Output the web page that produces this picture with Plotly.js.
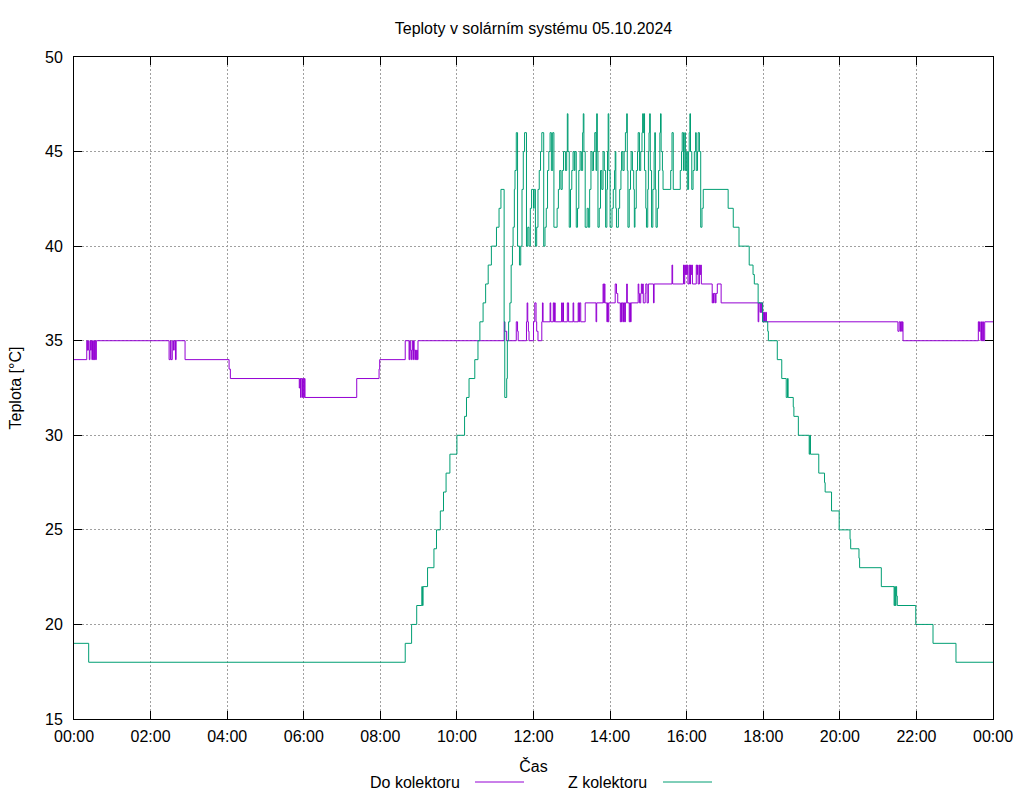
<!DOCTYPE html>
<html>
<head>
<meta charset="utf-8">
<script src="https://cdn.plot.ly/plotly-3.0.1.min.js"></script>
<style>html,body{margin:0;padding:0;background:#fff;}#chart{width:1024px;height:800px;}</style>
</head>
<body>
<div id="chart"></div>
<script>
const chartTitle = "Teploty v solárním systému 05.10.2024";
const xTitle = "Čas";
const yTitle = "Teplota [°C]";
const seriesNames = ["Do kolektoru", "Z kolektoru"];
const day = "2024-10-05";
const nextDay = "2024-10-06";

// Do kolektoru: [time, °C] change points (step data)
const doKolektoru = [
["00:00",34],["00:20",35],["00:21",34.5],["00:22",35],["00:23",34.5],["00:24",34],["00:25",35],["00:26",34.5],["00:27",35],["00:28",34],["00:29",35],["00:30",34],["00:31",35],["00:32",34],["00:33",35],["00:34",34],["00:35",35],
["02:29",34],["02:31",35],["02:32",34],["02:34",35],["02:36",34.5],["02:37",35],["02:39",34],["02:40",35],["02:54",34],
["04:03",33.5],["04:05",33],["05:53",32.5],["05:54",33],["05:55",32],["05:56",33],["05:58",32],["05:59",33],["06:00",32],["06:01",33],["06:02",32],
["07:23",33],["07:58",33.5],["07:59",34],["08:39",35],["08:45",34],["08:46",35],["08:47",34.5],["08:48",34],["08:49",34.5],["08:50",35],["08:51",34],["08:52",35],["08:53",34.5],["08:54",34],["08:55",34.5],["08:56",34],["08:57",34.5],["08:58",34],["08:59",35],
["11:14",36],["11:15",35.5],["11:18",35],["11:33",36],["11:35",35.5],["11:36",35],["11:49",36],["11:50",37],["11:51",36],["11:52",35.5],["11:53",35],
["12:00",36],["12:02",37],["12:04",36],["12:05",35.5],["12:07",35],["12:13",36],["12:14",37],["12:15",36],["12:26",37],["12:27",36],["12:31",37],["12:32",36],["12:33",37],["12:34",36],["12:44",37],["12:45",36],["12:46",37],["12:47",36],["12:53",37],["12:55",36],
["13:02",37],["13:03",36],["13:10",37],["13:11",36],["13:12",37],["13:14",36],["13:21",37],["13:38",36],["13:39",37],["13:49",38],["13:50",37],["13:51",38],["13:52",37],["13:55",36],["13:56",37],["13:57",36],["13:58",37],
["14:08",38],["14:10",37.5],["14:12",37],["14:16",36],["14:17",37],["14:18",36],["14:19",37],["14:21",36],["14:22",37],["14:23",36],["14:24",37],["14:26",38],["14:27",37],["14:30",36],["14:31",37],["14:32",36],["14:33",37],["14:44",38],["14:45",37.5],["14:46",37],["14:48",37.5],["14:49",38],["14:50",37.5],["14:51",38],["14:52",37],["14:55",37.5],["14:56",38],["14:58",37],
["15:00",38],["15:08",37],["15:09",38],["15:37",39],["15:38",38],["15:55",39],["15:56",38],["15:57",39],["15:58",38.5],["15:59",39],["16:00",38.5],["16:01",39],["16:02",38],["16:04",39],["16:05",38],["16:06",39],["16:07",38.5],["16:08",39],["16:09",38],["16:15",39],["16:16",38.5],["16:17",39],["16:18",38],["16:20",39],["16:21",38.5],["16:22",39],["16:23",38],
["16:40",37],["16:41",37.5],["16:42",37],["16:43",37.5],["16:45",37],["16:46",37.5],["16:48",38],["16:54",37],
["17:52",36],["17:53",37],["17:55",36.5],["17:56",37],["17:57",36.5],["17:58",37],["17:59",36],["18:00",36.5],["18:01",36],["18:02",36.5],["18:03",36],["18:04",36.5],["18:05",36],
["21:31",35.5],["21:33",36],["21:35",35.5],["21:36",36],["21:37",35.5],["21:38",36],["21:39",35],
["23:37",36],["23:38",35.5],["23:39",36],["23:40",35.5],["23:41",35],["23:42",36],["23:43",35],["23:44",36],["23:45",35],["23:47",36],["24:00",36]
];

// Z kolektoru: [time, °C] change points (step data)
const zKolektoru = [
["00:00",19],["00:23",18],["08:39",19],["08:49",20],["08:57",21],["09:05",22],["09:06",21],["09:07",22],["09:14",23],["09:24",24],["09:28",25],["09:34",26],["09:39",27],["09:43",28],["09:49",29],
["10:00",30],["10:12",31],["10:15",32],["10:19",33],["10:28",34],["10:33",35],["10:36",36],["10:41",37],["10:45",38],["10:49",39],["10:54",40],
["11:02",41],["11:06",42],["11:09",43],["11:14",36],["11:15",32],["11:18",33],["11:19",35],["11:21",36],["11:23",37],["11:25",39],["11:27",40],["11:28",41],["11:30",43],["11:31",44],["11:33",46],["11:35",40],["11:38",39],["11:40",40],["11:42",43],["11:44",45],["11:46",46],["11:49",40],["11:51",41],["11:53",40],["11:55",42],["11:57",43],
["12:00",42],["12:01",43],["12:03",40],["12:05",41],["12:07",43],["12:09",44],["12:11",45],["12:13",46],["12:16",40],["12:18",41],["12:20",42],["12:22",44],["12:24",45],["12:26",46],["12:28",44],["12:30",46],["12:32",41],["12:37",42],["12:39",43],["12:41",44],["12:43",43],["12:45",44],["12:47",45],["12:50",44],["12:52",45],["12:53",47],["12:54",45],["12:56",41],["12:58",43],
["13:00",44],["13:02",45],["13:04",44],["13:05",45],["13:07",41],["13:09",42],["13:11",44],["13:13",45],["13:15",44],["13:17",46],["13:18",47],["13:19",45],["13:21",41],["13:24",42],["13:26",41],["13:28",43],["13:30",45],["13:32",44],["13:34",45],["13:36",46],["13:38",44],["13:39",47],["13:40",45],["13:41",41],["13:43",42],["13:45",44],["13:47",43],["13:49",45],["13:51",44],["13:53",41],["13:55",43],["13:56",45],["13:57",47],["13:58",44],
["14:00",41],["14:03",42],["14:05",43],["14:07",44],["14:08",45],["14:09",42],["14:10",41],["14:13",42],["14:15",43],["14:17",44],["14:18",45],["14:20",44],["14:22",45],["14:24",46],["14:26",47],["14:27",44],["14:28",41],["14:30",43],["14:32",44],["14:33",45],["14:35",44],["14:37",43],["14:38",41],["14:39",42],["14:41",44],["14:43",45],["14:44",46],["14:46",44],["14:48",45],["14:50",46],["14:51",47],["14:52",46],["14:53",47],["14:54",44],["14:56",42],["14:57",41],["14:59",43],
["15:00",45],["15:01",46],["15:02",47],["15:03",44],["15:05",41],["15:07",43],["15:09",45],["15:10",46],["15:11",43],["15:12",41],["15:14",42],["15:16",44],["15:18",46],["15:19",47],["15:20",45],["15:22",44],["15:23",43],["15:35",44],["15:37",46],["15:39",43],["15:50",44],["15:52",45],["15:53",46],["15:55",44],["15:56",45],["15:57",46],["15:58",44],
["16:00",45],["16:01",43],["16:03",45],["16:04",46],["16:05",47],["16:06",45],["16:08",43],["16:10",44],["16:12",45],["16:14",46],["16:15",44],["16:17",45],["16:18",46],["16:20",45],["16:22",41],["16:24",42],["16:26",43],
["17:05",42],["17:13",41],["17:22",40],["17:38",39],["17:44",38.5],["17:46",38],["17:52",37],["17:59",36],["18:07",35.5],["18:08",35],["18:22",34],["18:29",33],["18:36",32],["18:38",33],["18:39",32],["18:47",31.5],["18:48",31],["18:55",30],
["19:12",29],["19:13",30],["19:14",29],["19:27",28],["19:36",27.5],["19:37",27],["19:47",26],["19:59",25],["20:16",24.5],["20:17",24],["20:30",23.5],["20:31",23],
["21:05",22],["21:25",21],["21:26",22],["21:27",21],["21:28",22],["21:29",21.5],["21:30",21],["21:59",20],["22:26",19],["23:02",18],["24:00",18]
];

const yTicks = [15,20,25,30,35,40,45,50];

function toDate(t){
  return t === "24:00" ? nextDay + " 00:00" : day + " " + t;
}

const colors = ["#9400d3", "#009e73"];
const FONT = "Liberation Sans, Arial, sans-serif";

const traces = [doKolektoru, zKolektoru].map((s, i) => ({
  type: "scatter",
  mode: "lines",
  name: seriesNames[i],
  x: s.map(p => toDate(p[0])),
  y: s.map(p => p[1]),
  line: {color: colors[i], width: 1, shape: "hv"},
  showlegend: false,
  hoverinfo: "x+y"
}));

// custom gnuplot-style key: text then line sample (paper coordinates)
const L = 74, R = 993, T = 57, B = 719;
const px = v => (v - L) / (R - L);
const py = v => (B - v) / (B - T);
const keyY = 782;

const layout = {
  width: 1024, height: 800,
  margin: {l: L, r: 1024 - R, t: T, b: 800 - B, pad: 0},
  paper_bgcolor: "#fff", plot_bgcolor: "#fff",
  font: {family: FONT, size: 16, color: "#000"},
  title: {text: chartTitle, x: 0.5, xref: "paper", y: 1 - 28/800, yref: "container", yanchor: "middle", font: {family: FONT, size: 16, color: "#000"}},
  xaxis: {
    type: "date",
    range: [day + " 00:00", nextDay + " 00:00"],
    tick0: day + " 00:00", dtick: 7200000, tickformat: "%H:%M",
    ticks: "inside", ticklen: 8, tickwidth: 1, tickcolor: "#000",
    showline: true, linecolor: "#000", linewidth: 1, mirror: "ticks",
    showgrid: true, gridcolor: "#a0a0a0", griddash: "2px,2px", gridwidth: 1,
    zeroline: false, tickfont: {family: FONT, size: 16, color: "#000"},
    ticklabelstandoff: 3,
    title: {text: xTitle, font: {family: FONT, size: 16, color: "#000"}, standoff: 16},
    fixedrange: true
  },
  yaxis: {
    range: [15, 50], tickvals: yTicks, ticktext: yTicks.map(String),
    ticks: "inside", ticklen: 8, tickwidth: 1, tickcolor: "#000",
    showline: true, linecolor: "#000", linewidth: 1, mirror: "ticks",
    showgrid: true, gridcolor: "#a0a0a0", griddash: "2px,2px", gridwidth: 1,
    zeroline: false, tickfont: {family: FONT, size: 16, color: "#000"},
    ticklabelstandoff: 7,
    title: {text: yTitle, font: {family: FONT, size: 16, color: "#000"}, standoff: 19},
    fixedrange: true
  },
  annotations: [
    {xref: "paper", yref: "paper", x: px(462), y: py(keyY), xanchor: "right", yanchor: "middle", showarrow: false, text: seriesNames[0], font: {family: FONT, size: 16, color: "#000"}},
    {xref: "paper", yref: "paper", x: px(649), y: py(keyY), xanchor: "right", yanchor: "middle", showarrow: false, text: seriesNames[1], font: {family: FONT, size: 16, color: "#000"}}
  ],
  shapes: [
    {type: "line", xref: "paper", yref: "paper", x0: px(475), x1: px(524), y0: py(keyY), y1: py(keyY), line: {color: colors[0], width: 1}},
    {type: "line", xref: "paper", yref: "paper", x0: px(663), x1: px(712), y0: py(keyY), y1: py(keyY), line: {color: colors[1], width: 1}}
  ]
};

Plotly.newPlot("chart", traces, layout, {staticPlot: true, displayModeBar: false});
</script>
</body>
</html>
